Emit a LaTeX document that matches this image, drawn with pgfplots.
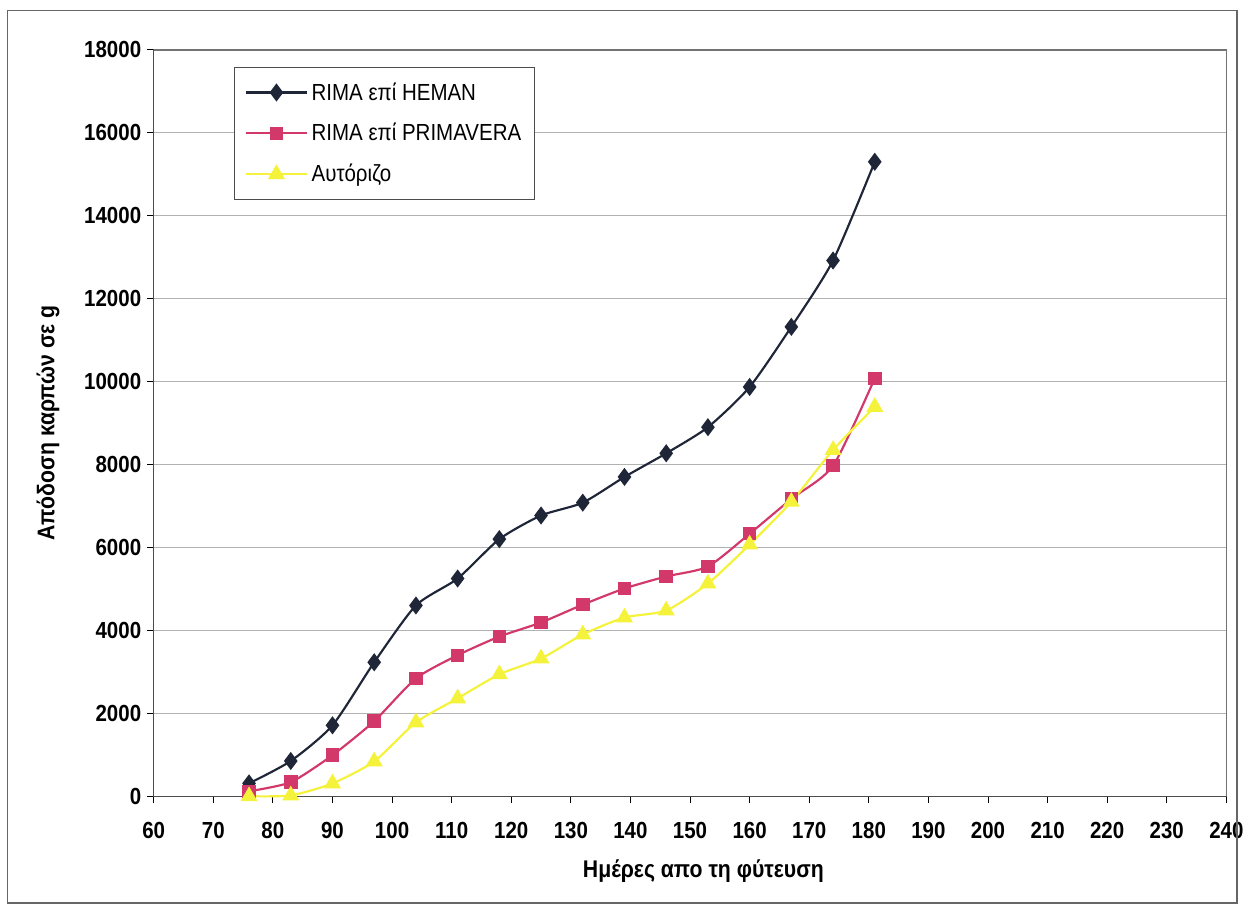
\documentclass[border=0pt]{standalone}
\usepackage{pgfplots}
\pgfplotsset{compat=1.18}
\usepackage{fontspec}
\setmainfont{Liberation Sans}[FakeStretch=0.88]
\definecolor{navy}{HTML}{1E2638}
\definecolor{rose}{HTML}{D2386A}
\definecolor{yel}{HTML}{F4F23A}
\begin{document}
\begin{tikzpicture}
\begin{axis}[
  scale only axis,
  width=645pt, height=448.8pt,
  xmin=60, xmax=240, ymin=0, ymax=18000,
  xtick={60,70,...,240},
  ytick={0,2000,...,18000},
  scaled y ticks=false,
  /pgf/number format/assume math mode=true,
  yticklabel={\pgfmathprintnumber[fixed,1000 sep={}]{\tick}},
  tick label style={font=\fontsize{14}{16}\selectfont\bfseries},
  xticklabel style={yshift=-8pt},
  ymajorgrids,
  grid style={gray!60, line width=0.6pt},
  tick align=outside,
  major tick length=4pt,
  tick style={black, line width=0.6pt},
  xtick pos=bottom, ytick pos=left,
  axis line style={black!70, line width=0.8pt},
  xlabel={Ημέρες απο τη φύτευση},
  ylabel={Απόδοση καρπών σε g},
  label style={font=\fontsize{14.5}{16}\selectfont\bfseries},
  xlabel style={yshift=-6pt, xshift=8pt},
  ylabel style={yshift=8pt},
  legend style={at={(0.075,0.977)}, anchor=north west, draw=black!70, line width=0.6pt,
    font=\fontsize{14}{16}\selectfont, row sep=8.5pt, inner xsep=6pt, inner ysep=7pt},
  legend cell align=left,
  legend image code/.code={
    \draw[mark repeat=2,mark phase=2,#1] plot coordinates {(0cm,0cm) (0.65cm,0cm) (1.3cm,0cm)};
  },
  clip=false,
]
\addplot[navy, line width=1.3pt, smooth, tension=0.4, mark=diamond*, mark size=4.4pt, mark options={fill=navy}]
coordinates {(76,310) (83,850) (90,1710) (97,3230) (104,4600) (111,5250) (118,6200) (125,6770) (132,7080) (139,7700) (146,8270) (153,8900) (160,9870) (167,11320) (174,12920) (181,15300)};
\addlegendentry{RIMA επί HEMAN}
\addplot[rose, line width=1.3pt, smooth, tension=0.4, mark=square*, mark size=3.4pt, mark options={fill=rose}]
coordinates {(76,120) (83,340) (90,990) (97,1810) (104,2840) (111,3400) (118,3850) (125,4190) (132,4620) (139,5010) (146,5300) (153,5540) (160,6330) (167,7170) (174,7970) (181,10080)};
\addlegendentry{RIMA επί PRIMAVERA}
\addplot[yel, line width=1.3pt, smooth, tension=0.4, mark=triangle*, mark size=4.6pt, mark options={fill=yel}]
coordinates {(76,0) (83,20) (90,310) (97,840) (104,1780) (111,2360) (118,2940) (125,3320) (132,3900) (139,4310) (146,4480) (153,5130) (160,6070) (167,7100) (174,8350) (181,9390)};
\addlegendentry{Αυτόριζο}
\draw[black!55, line width=0.8pt] (rel axis cs:0,1) -- (rel axis cs:1,1) -- (rel axis cs:1,0);
\draw[black!60, line width=0.8pt] (rel axis cs:-0.136,-0.143) rectangle (rel axis cs:1.010,1.053);
\useasboundingbox (rel axis cs:-0.1433,-0.1551) rectangle (rel axis cs:1.0186,1.0668);
\end{axis}
\end{tikzpicture}
\end{document}
